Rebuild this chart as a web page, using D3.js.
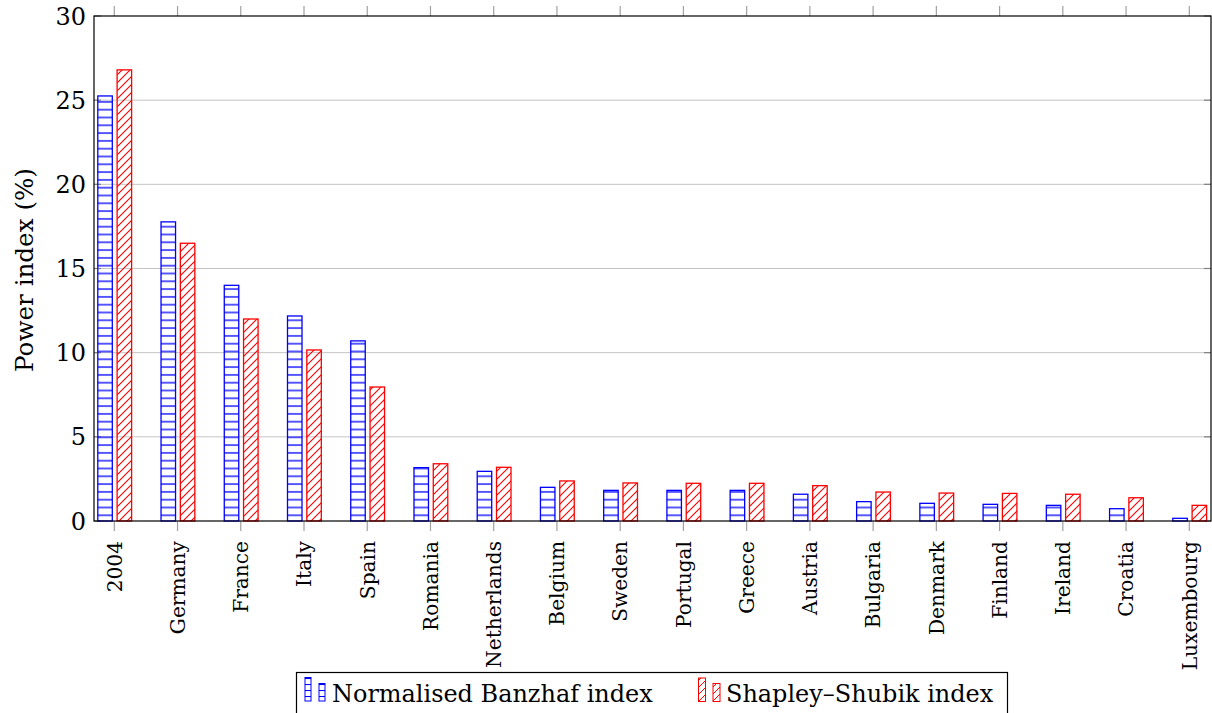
<!DOCTYPE html>
<html>
<head>
<meta charset="utf-8">
<script src="https://cdn.jsdelivr.net/npm/d3@7/dist/d3.min.js"></script>
<style>
  html, body { margin: 0; padding: 0; background: #fff; }
  svg { display: block; }
</style>
</head>
<body>
<svg id="chart" width="1212" height="713"></svg>
<script>
const categories = ["2004", "Germany", "France", "Italy", "Spain", "Romania", "Netherlands",
  "Belgium", "Sweden", "Portugal", "Greece", "Austria", "Bulgaria", "Denmark", "Finland",
  "Ireland", "Croatia", "Luxembourg"];
const banzhaf = [25.25, 17.77, 14.0, 12.18, 10.7, 3.17, 2.95, 2.0, 1.82, 1.82, 1.82, 1.59,
  1.15, 1.05, 0.99, 0.93, 0.73, 0.16];
const shapley = [26.8, 16.5, 12.0, 10.16, 7.96, 3.4, 3.19, 2.38, 2.26, 2.24, 2.24, 2.1,
  1.72, 1.66, 1.64, 1.59, 1.38, 0.93];
const yTicks = [0, 5, 10, 15, 20, 25, 30];
const seriesNames = ["Normalised Banzhaf index", "Shapley\u2013Shubik index"];
const yLabel = "Power index (%)";

const FONT = "'DejaVu Serif', 'Liberation Serif', 'Noto Serif', 'Times New Roman', Tinos, Times, serif";
const svg = d3.select("#chart").attr("font-family", FONT);
const L = 94, R = 1211, T = 16, B = 521;

// pick font sizes so text widths match the reference
function fitSize(str, target, lo, hi) {
  const p = svg.append("text").attr("font-family", FONT).style("font-size", "20px").text(str);
  const w = p.node().getComputedTextLength();
  p.remove();
  return Math.max(lo, Math.min(hi, 20 * target / (w || target)));
}
const FS = fitSize(seriesNames[0], 321, 16, 26);
const FSX = fitSize("Netherlands", 127, 15, 26);
const FSY = fitSize(yLabel, 204, 15, 26);

const x = d3.scalePoint().domain(categories).range([114.3, 1189.3]);
const y = d3.scaleLinear().domain([0, 30]).range([B, T]);

// patterns
const defs = svg.append("defs");
const pH = defs.append("pattern").attr("id", "hlines").attr("patternUnits", "userSpaceOnUse")
  .attr("width", 8).attr("height", 7.8).attr("y", 515.3 - 3.9);
pH.append("line").attr("x1", 0).attr("x2", 8).attr("y1", 3.9).attr("y2", 3.9)
  .attr("stroke", "#0000ff").attr("stroke-width", 1.3);
const pD = defs.append("pattern").attr("id", "dlines").attr("patternUnits", "userSpaceOnUse")
  .attr("width", 8).attr("height", 8);
pD.append("path").attr("d", "M-2,2 L2,-2 M0,8 L8,0 M6,10 L10,6")
  .attr("stroke", "#ff0000").attr("stroke-width", 1.1);
const pHs = defs.append("pattern").attr("id", "hlinesS").attr("patternUnits", "userSpaceOnUse")
  .attr("width", 8).attr("height", 6).attr("y", 678);
pHs.append("line").attr("x1", 0).attr("x2", 8).attr("y1", 0.5).attr("y2", 0.5)
  .attr("stroke", "#0000ff").attr("stroke-width", 1.1);
const pDs = defs.append("pattern").attr("id", "dlinesS").attr("patternUnits", "userSpaceOnUse")
  .attr("width", 7).attr("height", 7);
pDs.append("path").attr("d", "M-2,2 L2,-2 M0,7 L7,0 M5,9 L9,5")
  .attr("stroke", "#ff0000").attr("stroke-width", 1);

// grid
svg.append("g").selectAll("line").data(yTicks.filter(d => d > 0 && d < 30)).join("line")
  .attr("x1", L).attr("x2", R).attr("y1", d => y(d)).attr("y2", d => y(d))
  .attr("stroke", "#c4c4c4").attr("stroke-width", 1);

// y ticks inward (left & right)
const yt = svg.append("g");
yt.selectAll("line.l").data(yTicks).join("line").attr("class", "l")
  .attr("x1", L).attr("x2", L + 7).attr("y1", d => y(d)).attr("y2", d => y(d))
  .attr("stroke", "#808080").attr("stroke-width", 1.2);
yt.selectAll("line.r").data(yTicks).join("line").attr("class", "r")
  .attr("x1", R - 7).attr("x2", R).attr("y1", d => y(d)).attr("y2", d => y(d))
  .attr("stroke", "#808080").attr("stroke-width", 1.2);

// x ticks outward (top & bottom)
const xt = svg.append("g");
xt.selectAll("line.b").data(categories).join("line").attr("class", "b")
  .attr("x1", d => x(d)).attr("x2", d => x(d)).attr("y1", B).attr("y2", B + 10)
  .attr("stroke", "#a0a0a0").attr("stroke-width", 1.2);
xt.selectAll("line.t").data(categories).join("line").attr("class", "t")
  .attr("x1", d => x(d)).attr("x2", d => x(d)).attr("y1", T).attr("y2", T - 10)
  .attr("stroke", "#a0a0a0").attr("stroke-width", 1.2);

// bars
const BW = 14.5;
svg.append("g").selectAll("rect").data(categories).join("rect")
  .attr("x", d => x(d) - 16.5).attr("width", BW)
  .attr("y", (d, i) => y(banzhaf[i])).attr("height", (d, i) => B - y(banzhaf[i]))
  .attr("fill", "url(#hlines)").attr("stroke", "#0000ff").attr("stroke-width", 1.3);
svg.append("g").selectAll("rect").data(categories).join("rect")
  .attr("x", d => x(d) + 2.8).attr("width", BW)
  .attr("y", (d, i) => y(shapley[i])).attr("height", (d, i) => B - y(shapley[i]))
  .attr("fill", "url(#dlines)").attr("stroke", "#ff0000").attr("stroke-width", 1.3);

// frame
svg.append("rect").attr("x", L).attr("y", T).attr("width", R - L).attr("height", B - T)
  .attr("fill", "none").attr("stroke", "#000").attr("stroke-width", 1.2);

// y tick labels
svg.append("g").selectAll("text").data(yTicks).join("text")
  .attr("x", 86).attr("y", d => y(d)).attr("dy", "0.36em")
  .attr("text-anchor", "end").style("font-size", FS + "px").text(d => d);

// legend box (drawn before x labels so nothing is hidden)
svg.append("rect").attr("x", 296.5).attr("y", 672.5).attr("width", 711).attr("height", 45)
  .attr("fill", "#fff").attr("stroke", "#000").attr("stroke-width", 1.2);

// x tick labels
svg.append("g").selectAll("text").data(categories).join("text")
  .attr("transform", d => `translate(${x(d) + FSX * 0.36},541) rotate(-90)`)
  .attr("text-anchor", "end").style("font-size", FSX + "px").text(d => d);

// y label
svg.append("text").attr("transform", "translate(33,270) rotate(-90)")
  .attr("text-anchor", "middle").style("font-size", FSY + "px").text(yLabel);

// legend entries
const lg = svg.append("g");
lg.append("rect").attr("x", 305).attr("y", 677.5).attr("width", 6).attr("height", 23.5)
  .attr("fill", "url(#hlinesS)").attr("stroke", "#0000ff").attr("stroke-width", 1);
lg.append("rect").attr("x", 319).attr("y", 683.5).attr("width", 6).attr("height", 17.5)
  .attr("fill", "url(#hlinesS)").attr("stroke", "#0000ff").attr("stroke-width", 1);
lg.append("text").attr("x", 332).attr("y", 702).style("font-size", FS + "px").text(seriesNames[0]);
lg.append("rect").attr("x", 698.5).attr("y", 678).attr("width", 7).attr("height", 23.5)
  .attr("fill", "url(#dlinesS)").attr("stroke", "#ff0000").attr("stroke-width", 1);
lg.append("rect").attr("x", 713).attr("y", 683.5).attr("width", 7).attr("height", 18)
  .attr("fill", "url(#dlinesS)").attr("stroke", "#ff0000").attr("stroke-width", 1);
lg.append("text").attr("x", 726).attr("y", 702).style("font-size", FS + "px").text(seriesNames[1]);
</script>
</body>
</html>
